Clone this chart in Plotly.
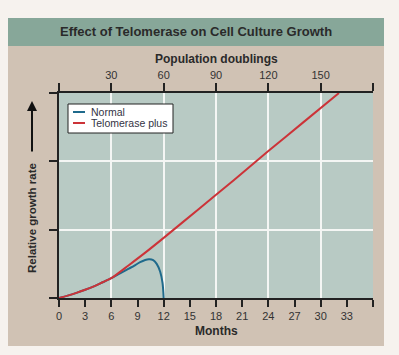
import plotly.graph_objects as go

# Data
months_red = [0, 1, 2, 3, 4, 5, 6, 8, 10, 12, 16, 20, 24, 28, 32.1]
growth_red = [0, 0.035, 0.075, 0.12, 0.17, 0.23, 0.29, 0.48, 0.675, 0.88, 1.30, 1.72, 2.15, 2.57, 3.0]

months_blue = [0, 1, 2, 3, 4, 5, 6, 7, 8, 8.6, 9.3, 10.3, 10.8, 11.2, 11.6, 11.87, 12.0]
growth_blue = [0, 0.035, 0.075, 0.12, 0.17, 0.23, 0.29, 0.36, 0.43, 0.47, 0.525, 0.567, 0.555, 0.50, 0.385, 0.22, 0.0]

series_names = ["Normal", "Telomerase plus"]
series_colors = ["#1f6a8c", "#cc3338"]

x_ticks = [0, 3, 6, 9, 12, 15, 18, 21, 24, 27, 30, 33, 36]
x_ticktext = ["0", "3", "6", "9", "12", "15", "18", "21", "24", "27", "30", "33", ""]
top_ticks = [0, 30, 60, 90, 120, 150, 180]
top_ticktext = ["", "30", "60", "90", "120", "150", ""]
y_ticks = [0, 1, 2, 3]

W, H = 399, 355
L, R, T, B = 59, 373, 93, 298
pw, ph = R - L, B - T

def px(x):
    return (x - L) / pw

def py(y):
    return (B - y) / ph

FONT = "Liberation Sans, Arial, sans-serif"
TXT = "#2a2a2a"

fig = go.Figure()
fig.add_trace(go.Scatter(x=months_blue, y=growth_blue, mode="lines", name=series_names[0],
                         line=dict(color=series_colors[0], width=2, shape="spline", smoothing=0.8)))
fig.add_trace(go.Scatter(x=months_red, y=growth_red, mode="lines", name=series_names[1],
                         line=dict(color=series_colors[1], width=2, shape="spline", smoothing=0.8)))
fig.add_trace(go.Scatter(x=[0, 180], y=[0, 0], xaxis="x2", mode="lines",
                         line=dict(width=0), showlegend=False, hoverinfo="skip", opacity=0))

shapes = [
    dict(type="rect", xref="paper", yref="paper", x0=px(8), x1=px(384), y0=py(18), y1=py(346),
         fillcolor="#d0c2b4", line=dict(width=0), layer="below"),
    dict(type="rect", xref="paper", yref="paper", x0=px(8), x1=px(384), y0=py(18), y1=py(46),
         fillcolor="#87a799", line=dict(width=0), layer="below"),
    dict(type="rect", xref="paper", yref="paper", x0=0, x1=1, y0=0, y1=1,
         fillcolor="#b8cac4", line=dict(width=0), layer="below"),
    # legend box
    dict(type="rect", xref="paper", yref="paper", x0=px(68), x1=px(173), y0=py(104), y1=py(133),
         fillcolor="white", line=dict(width=1, color="#222222"), layer="above"),
]

annotations = [
    dict(text="<b>Effect of Telomerase on Cell Culture Growth</b>", xref="paper", yref="paper",
         x=px(196), y=py(32), showarrow=False, font=dict(family=FONT, size=13, color=TXT),
         xanchor="center", yanchor="middle"),
    dict(text="<b>Population doublings</b>", xref="paper", yref="paper",
         x=px(216), y=py(59), showarrow=False, font=dict(family=FONT, size=12, color=TXT),
         xanchor="center", yanchor="middle"),
    dict(text="<b>Months</b>", xref="paper", yref="paper",
         x=px(216), y=py(331), showarrow=False, font=dict(family=FONT, size=12, color=TXT),
         xanchor="center", yanchor="middle"),
    dict(text="<b>Relative growth rate</b>", xref="paper", yref="paper", textangle=-90,
         x=px(32), y=py(218), showarrow=False, font=dict(family=FONT, size=11.5, color=TXT),
         xanchor="center", yanchor="middle"),
    dict(text="", xref="paper", yref="paper", x=px(32), y=py(101), ax=0, ay=52,
         showarrow=True, arrowhead=2, arrowsize=1, arrowwidth=2, arrowcolor="#111111"),
]

# legend rows (manual, compact like the reference)
row_y = [112, 123]
for name, color, yy in zip(series_names, series_colors, row_y):
    shapes.append(dict(type="line", xref="paper", yref="paper", x0=px(73), x1=px(85),
                       y0=py(yy), y1=py(yy), line=dict(color=color, width=2), layer="above"))
    annotations.append(dict(text=name, xref="paper", yref="paper", x=px(89), y=py(yy),
                            showarrow=False, xanchor="left", yanchor="middle",
                            font=dict(family=FONT, size=10.5, color="#333344")))

fig.update_layout(
    width=W, height=H,
    margin=dict(l=L, r=W - R, t=T, b=H - B),
    paper_bgcolor="#f6f2ee",
    plot_bgcolor="#b8cac4",
    shapes=shapes,
    annotations=annotations,
    showlegend=False,
    xaxis=dict(range=[0, 36], tickvals=x_ticks, ticktext=x_ticktext,
               showgrid=False, zeroline=False, showline=True, linecolor="#222222", linewidth=1.5,
               ticks="outside", ticklen=7, tickwidth=1.5, tickcolor="#222222",
               tickfont=dict(family=FONT, size=11, color="#333333")),
    xaxis2=dict(range=[0, 180], overlaying="x", side="top", tickvals=top_ticks, ticktext=top_ticktext,
                showgrid=True, gridcolor="#f4f6f4", gridwidth=1.5, zeroline=False,
                showline=True, linecolor="#222222", linewidth=1.5,
                ticks="outside", ticklen=8, tickwidth=1.5, tickcolor="#222222",
                tickfont=dict(family=FONT, size=11, color="#333333")),
    yaxis=dict(range=[0, 3], tickvals=y_ticks, showticklabels=False,
               showgrid=True, gridcolor="#f4f6f4", gridwidth=1.5, zeroline=False,
               showline=True, linecolor="#222222", linewidth=1.5,
               ticks="outside", ticklen=8, tickwidth=1.5, tickcolor="#222222"),
)

fig.write_html("out.html", config={"displayModeBar": False},
               post_script="document.body.style.margin='0';document.body.style.background='#f6f2ee';")
